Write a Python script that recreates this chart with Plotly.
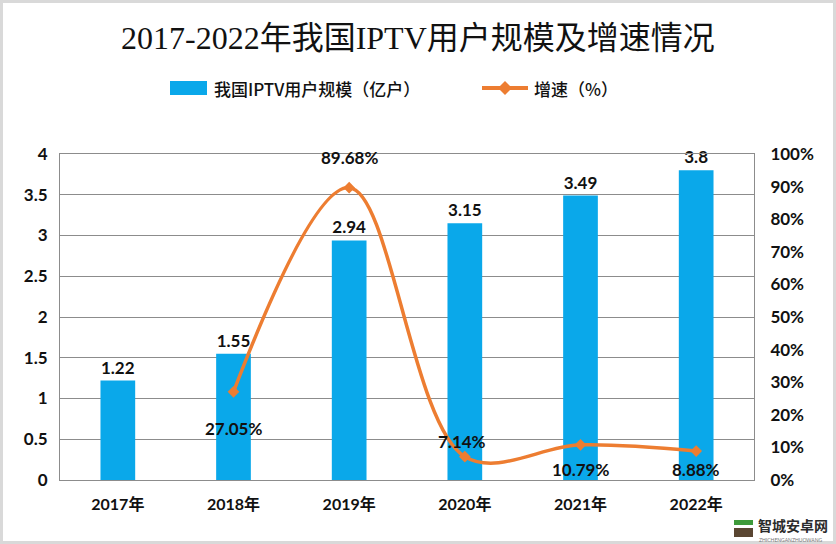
import plotly.graph_objects as go

years = ["2017年", "2018年", "2019年", "2020年", "2021年", "2022年"]
users = [1.22, 1.55, 2.94, 3.15, 3.49, 3.8]
growth = [None, 27.05, 89.68, 7.14, 10.79, 8.88]
growth_labels = ["", "27.05%", "89.68%", "7.14%", "10.79%", "8.88%"]

W, H = 836, 544
L, R, T, B = 60, 754, 154, 480

def px(x):
    return (x - L) / (R - L)

def py(y):
    return (B - y) / (B - T)

BLUE = "#0AA8EA"
ORANGE = "#ED7D31"
GRID = "#8C8C8C"
NUMFONT = "Lato, 'Noto Sans CJK SC', sans-serif"
CJKFONT = "'Noto Sans CJK SC', sans-serif"

fig = go.Figure()
fig.add_trace(go.Bar(
    x=years, y=users, marker=dict(color=BLUE, line=dict(width=0)),
    width=0.3, text=[f"{v:g}" for v in users], textposition="outside",
    textfont=dict(family=NUMFONT, size=17, color="#111111", weight="bold"),
    cliponaxis=False, name="我国IPTV用户规模（亿户）",
))
fig.add_trace(go.Scatter(
    x=years, y=[g / 100 if g is not None else None for g in growth],
    mode="lines+markers", yaxis="y2", line=dict(color=ORANGE, width=3.5, shape="spline", smoothing=1.0),
    marker=dict(symbol="diamond", size=9, color=ORANGE), name="增速（%）",
))

shifts = [(0, 0), (0, -37), (0, 30), (-3, 15), (0, -25), (0, -18)]
for yr, g, lab, (dx, dy) in zip(years, growth, growth_labels, shifts):
    if g is None:
        continue
    fig.add_annotation(x=yr, y=g / 100, yref="y2", text=lab, showarrow=False,
                       xshift=dx, yshift=dy, font=dict(family=NUMFONT, size=17, color="#111111", weight="bold"))

# Title
fig.add_annotation(xref="paper", yref="paper", x=px(418), y=py(38), text="2017-2022年我国IPTV用户规模及增速情况",
                   showarrow=False, xanchor="center", yanchor="middle",
                   font=dict(family="'Liberation Serif', 'Noto Sans CJK SC', serif", size=32, color="#111111"))

# Legend (manual)
fig.add_shape(type="rect", xref="paper", yref="paper", x0=px(170), x1=px(207), y0=py(95), y1=py(81),
              fillcolor=BLUE, line=dict(width=0))
fig.add_annotation(xref="paper", yref="paper", x=px(212), y=py(88), text="我国IPTV用户规模（亿户）",
                   showarrow=False, xanchor="left", yanchor="middle",
                   font=dict(family=CJKFONT, size=17, color="#111111", weight=500))
fig.add_shape(type="line", xref="paper", yref="paper", x0=px(482), x1=px(528), y0=py(88), y1=py(88),
              line=dict(color=ORANGE, width=4))
fig.add_shape(type="path", xref="paper", yref="paper",
              path=f"M {px(498)} {py(88)} L {px(505)} {py(81)} L {px(512)} {py(88)} L {px(505)} {py(95)} Z",
              fillcolor=ORANGE, line=dict(width=0))
fig.add_annotation(xref="paper", yref="paper", x=px(532), y=py(88), text="增速（%）",
                   showarrow=False, xanchor="left", yanchor="middle",
                   font=dict(family=CJKFONT, size=17, color="#111111", weight=500))

# Outer frame
fig.add_shape(type="rect", xref="paper", yref="paper", x0=px(1.5), x1=px(834.5), y0=py(542.5), y1=py(1.5),
              line=dict(color="#D9D9D9", width=3), fillcolor="rgba(0,0,0,0)")

# Watermark
fig.add_annotation(xref="paper", yref="paper", x=px(757), y=py(525), text="智城安卓网",
                   showarrow=False, xanchor="left", yanchor="middle", borderpad=0,
                   font=dict(family=CJKFONT, size=14, color="#2B2B2B", weight="bold"))
fig.add_annotation(xref="paper", yref="paper", x=px(758), y=py(540), text="ZHICHENGANZHUOWANG",
                   showarrow=False, xanchor="left", yanchor="middle", borderpad=0,
                   font=dict(family=NUMFONT, size=5, color="#777777"))
fig.add_shape(type="rect", xref="paper", yref="paper", x0=px(734), x1=px(753), y0=py(525), y1=py(520),
              fillcolor="#3E9A3A", line=dict(width=0))
fig.add_shape(type="rect", xref="paper", yref="paper", x0=px(734), x1=px(753), y0=py(537), y1=py(528),
              fillcolor="#5A4632", line=dict(width=0))

fig.update_layout(
    width=W, height=H,
    margin=dict(l=L, r=W - R, t=T, b=H - B),
    paper_bgcolor="white", plot_bgcolor="white",
    showlegend=False,
    xaxis=dict(showline=True, linecolor=GRID, linewidth=1, mirror=True, ticks="",
               tickfont=dict(family=NUMFONT, size=16, color="#111111", weight="bold"), ticklabelstandoff=10),
    yaxis=dict(range=[0, 4], dtick=0.5, showgrid=True, gridcolor=GRID, gridwidth=1,
               showline=True, linecolor=GRID, linewidth=1, zeroline=False,
               tickfont=dict(family=NUMFONT, size=17, color="#111111", weight="bold"), ticklabelstandoff=8),
    yaxis2=dict(range=[0, 1], dtick=0.1, tickformat=".0%", overlaying="y", side="right",
                showgrid=False, showline=True, linecolor=GRID, linewidth=1, zeroline=False,
                tickfont=dict(family=NUMFONT, size=17, color="#111111", weight="bold"), ticklabelstandoff=12),
    font=dict(family=NUMFONT),
)

fig.write_html("out.html", config={"displayModeBar": False},
               post_script="document.body.style.margin='0';")
